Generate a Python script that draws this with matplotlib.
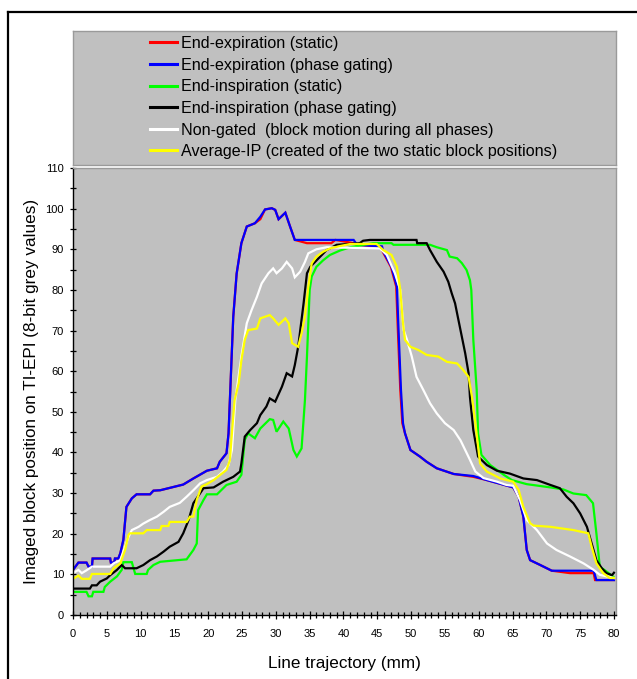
import matplotlib
matplotlib.use("Agg")
import matplotlib.pyplot as plt
from matplotlib.lines import Line2D
from matplotlib.ticker import MultipleLocator

# Series (x in mm, y in 8-bit grey values)
exp_static_x = [0, 0.8, 2.0, 2.3, 2.8, 2.9, 5.5, 5.6, 6.1, 6.2, 6.7, 7.0, 7.45, 7.9, 8.7, 9.4,
                11.4, 11.9, 12.9, 16.3, 17.8, 19.8, 21.3, 21.7, 22.7, 23.0, 23.2, 23.7, 24.2,
                24.9, 25.7, 26.9, 27.7, 28.4, 29.4, 29.9, 30.4, 31.4, 32.1, 32.8, 34.6, 38.2,
                38.8, 41.5, 42.0, 45.5, 45.8, 47.0, 47.8, 48.0, 48.4, 48.7, 49.1, 49.9, 51.3,
                52.3, 53.8, 56.3, 59.2, 61.2, 65.1, 65.9, 66.6, 67.1, 67.6, 69.1, 70.8, 73.5,
                77.0, 77.2, 80.0]
exp_static_y = [11.1, 12.9, 12.9, 11.9, 11.9, 13.9, 13.9, 12.9, 12.9, 13.9, 13.9, 15.2, 18.5,
                26.6, 28.7, 29.7, 29.7, 30.6, 30.7, 32.1, 33.6, 35.5, 36.1, 37.7, 39.8, 44.7,
                52.9, 73.4, 84.0, 91.5, 95.6, 96.4, 97.4, 99.8, 100.1, 99.7, 97.4, 99.0, 95.6,
                92.3, 91.5, 91.5, 92.3, 91.5, 91.1, 90.7, 89.4, 85.7, 80.8, 71.8, 55.4, 47.2,
                44.7, 40.6, 39.0, 37.7, 36.1, 34.7, 34.0, 33.2, 31.4, 29.1, 24.2, 16.0, 13.5,
                12.3, 10.9, 10.3, 10.3, 8.6, 8.6]

exp_gated_x = [0, 0.8, 2.0, 2.3, 2.8, 2.9, 5.5, 5.6, 6.1, 6.2, 6.7, 7.0, 7.45, 7.9, 8.7, 9.4,
               11.4, 11.9, 12.9, 16.3, 17.8, 19.8, 21.3, 21.7, 22.7, 23.0, 23.2, 23.7, 24.2,
               24.9, 25.7, 26.9, 27.7, 28.4, 29.4, 29.9, 30.4, 31.4, 32.1, 32.8, 41.5, 42.0,
               45.7, 45.9, 47.1, 47.9, 48.1, 48.5, 48.8, 49.1, 49.9, 51.3, 52.3, 53.8, 56.3,
               59.2, 61.2, 65.1, 65.9, 66.6, 67.1, 67.6, 69.1, 70.8, 77.0, 77.4, 80.0]
exp_gated_y = [11.1, 12.9, 12.9, 11.9, 11.9, 13.9, 13.9, 12.9, 12.9, 13.9, 13.9, 15.2, 18.5,
               26.6, 28.7, 29.7, 29.7, 30.6, 30.7, 32.1, 33.6, 35.5, 36.1, 37.7, 39.8, 44.7,
               52.9, 73.4, 84.0, 91.5, 95.6, 96.4, 98.0, 99.8, 100.1, 99.7, 97.4, 99.0, 95.6,
               92.3, 92.3, 91.1, 90.7, 89.4, 85.7, 80.8, 71.8, 55.4, 47.2, 44.7, 40.6, 39.0,
               37.7, 36.1, 34.7, 34.2, 33.2, 31.4, 29.1, 24.2, 16.0, 13.5, 12.3, 10.9, 10.9,
               8.6, 8.6]

insp_static_x = [0, 2.0, 2.3, 2.8, 3.0, 4.5, 4.7, 5.5, 6.5, 7.2, 7.45, 8.7, 9.2, 10.9, 11.1,
                 11.9, 12.9, 16.8, 17.8, 18.3, 18.5, 19.3, 19.8, 21.3, 22.7, 24.2, 24.9, 25.4,
                 25.9, 26.9, 27.7, 29.1, 29.6, 30.1, 31.1, 31.9, 32.6, 33.1, 33.8, 34.3, 34.6,
                 35.0, 35.3, 36.0, 37.0, 38.0, 39.5, 41.0, 44.4, 47.1, 47.4, 52.8, 53.8, 55.3,
                 55.7, 56.8, 57.5, 58.2, 58.7, 58.9, 59.2, 59.7, 59.9, 60.4, 61.7, 62.7, 63.7,
                 64.9, 67.1, 70.6, 72.5, 74.0, 75.9, 76.9, 77.4, 77.9, 78.9, 79.9]
insp_static_y = [5.7, 5.7, 4.6, 4.6, 5.7, 5.7, 6.9, 8.2, 9.5, 11.1, 13.0, 13.0, 10.1, 10.1,
                 11.1, 12.3, 13.1, 13.7, 16.0, 17.6, 25.8, 28.3, 29.7, 29.7, 32.0, 32.8, 34.5,
                 43.1, 44.7, 43.5, 45.9, 48.2, 48.0, 45.1, 47.6, 45.9, 40.6, 39.0, 41.0, 52.9,
                 63.6, 80.0, 83.3, 85.7, 87.3, 88.6, 89.7, 90.5, 91.5, 91.5, 91.1, 91.1, 90.5,
                 89.8, 88.2, 87.8, 86.6, 84.9, 82.4, 80.0, 67.7, 55.4, 44.7, 39.4, 36.9, 35.7,
                 34.5, 33.2, 32.2, 31.4, 30.9, 29.9, 29.5, 27.5, 20.1, 11.9, 10.7, 9.4]

insp_gated_x = [0, 2.5, 2.8, 3.5, 4.0, 5.0, 5.5, 6.5, 7.2, 7.7, 9.4, 10.4, 11.4, 12.4, 13.4,
                14.3, 15.6, 16.3, 17.1, 17.8, 19.3, 20.8, 22.2, 23.7, 24.7, 24.9, 25.4, 26.2,
                27.2, 27.7, 28.6, 29.1, 29.9, 30.9, 31.6, 32.4, 32.8, 33.3, 34.1, 34.6, 35.1,
                37.5, 39.0, 42.4, 42.9, 43.9, 50.8, 50.9, 52.3, 52.8, 53.8, 54.8, 55.5, 56.0,
                56.5, 57.0, 57.5, 58.0, 58.5, 58.7, 59.2, 59.9, 61.2, 62.7, 64.6, 66.6, 68.6,
                70.6, 72.0, 73.0, 74.0, 75.0, 76.0, 76.7, 77.4, 78.2, 78.9, 79.7, 80.0]
insp_gated_y = [6.5, 6.5, 7.3, 7.3, 8.2, 9.0, 9.8, 11.1, 12.3, 11.5, 11.5, 12.3, 13.5, 14.4,
                15.6, 16.8, 18.0, 20.1, 23.4, 27.5, 31.2, 31.4, 32.8, 34.0, 35.3, 37.3, 43.9,
                45.5, 47.2, 49.2, 51.3, 53.3, 52.5, 56.2, 59.5, 58.7, 61.5, 66.0, 76.7, 84.1,
                85.7, 89.8, 91.1, 91.5, 92.1, 92.3, 92.3, 91.5, 91.5, 89.8, 86.9, 84.5, 82.0,
                79.2, 76.7, 72.6, 68.5, 64.4, 59.5, 53.7, 45.5, 39.0, 36.9, 35.5, 34.8, 33.6,
                33.2, 32.0, 31.2, 29.1, 27.5, 25.0, 21.7, 17.6, 13.5, 11.5, 10.3, 9.8, 10.4]

non_gated_x = [0, 0.8, 1.3, 2.0, 2.8, 5.5, 6.0, 7.0, 7.7, 8.2, 8.7, 9.7, 10.4, 11.4, 12.4,
               13.4, 14.3, 15.8, 16.8, 17.8, 18.8, 19.8, 21.3, 22.2, 23.0, 23.5, 24.0, 24.9,
               25.7, 26.4, 27.2, 27.9, 28.9, 29.6, 30.1, 30.9, 31.6, 32.4, 32.8, 33.6, 34.3,
               34.8, 36.0, 37.5, 45.4, 46.4, 47.6, 48.4, 48.9, 49.4, 50.1, 50.8, 51.8, 52.8,
               53.8, 55.0, 56.3, 57.3, 58.7, 59.5, 60.7, 62.7, 64.1, 65.1, 66.1, 67.1, 68.6,
               70.1, 71.5, 73.5, 75.5, 77.0, 77.9, 80.0]
non_gated_y = [10.3, 11.1, 10.3, 11.0, 11.9, 11.9, 12.7, 13.5, 16.8, 19.2, 20.9, 21.7, 22.5,
               23.4, 24.2, 25.4, 26.6, 27.6, 29.1, 30.7, 32.4, 33.2, 34.0, 35.3, 36.9, 40.6,
               52.9, 63.6, 71.8, 75.0, 78.3, 81.6, 84.1, 85.3, 84.1, 85.3, 86.9, 85.3, 83.1,
               84.5, 86.9, 89.0, 90.0, 90.5, 90.2, 88.6, 84.1, 80.0, 70.1, 67.7, 63.6, 58.6,
               55.4, 52.1, 49.6, 47.2, 45.5, 43.0, 38.2, 35.3, 33.7, 32.8, 32.0, 31.8, 28.3,
               23.4, 20.9, 17.6, 16.0, 14.4, 12.7, 11.1, 9.9, 9.1]

average_ip_x = [0, 0.8, 1.3, 2.5, 2.8, 5.5, 6.0, 7.0, 7.7, 8.2, 8.4, 10.4, 10.9, 12.9, 13.1,
                14.1, 14.3, 16.8, 17.3, 17.8, 18.3, 19.0, 19.8, 20.8, 21.7, 22.7, 23.2, 23.5,
                23.9, 24.5, 24.9, 25.4, 25.9, 27.2, 27.7, 29.1, 29.6, 30.4, 31.4, 31.9, 32.4,
                33.3, 33.8, 34.3, 34.8, 35.3, 36.0, 37.0, 38.0, 39.5, 41.0, 44.9, 45.9, 47.1,
                47.9, 48.4, 48.8, 49.1, 49.9, 51.1, 52.3, 54.0, 55.3, 56.8, 57.7, 58.5, 59.0,
                59.5, 60.2, 61.2, 63.2, 65.1, 65.9, 66.6, 67.6, 68.1, 70.6, 74.0, 76.2, 76.7,
                77.4, 78.4, 79.4, 80.0]
average_ip_y = [8.9, 9.7, 8.9, 8.9, 10.1, 10.1, 11.5, 12.7, 16.0, 19.7, 20.1, 20.1, 20.9,
                20.9, 21.9, 21.9, 22.9, 22.9, 24.2, 24.2, 28.3, 31.6, 32.2, 33.2, 34.4, 35.7,
                38.1, 44.7, 52.9, 57.0, 62.7, 67.7, 70.1, 70.5, 73.0, 73.8, 73.0, 71.4, 73.0,
                71.8, 66.9, 66.0, 69.3, 73.4, 80.8, 86.5, 88.2, 89.4, 90.2, 90.8, 91.3, 91.3,
                89.8, 88.6, 85.7, 80.0, 71.8, 67.7, 66.0, 65.2, 64.0, 63.6, 62.3, 61.9, 60.3,
                58.6, 53.7, 47.2, 37.3, 35.3, 33.6, 32.8, 30.8, 26.6, 22.6, 22.0, 21.7, 20.9,
                20.1, 16.8, 12.7, 10.3, 9.1, 9.1]

labels = ["End-expiration (static)", "End-expiration (phase gating)",
          "End-inspiration (static)", "End-inspiration (phase gating)",
          "Non-gated  (block motion during all phases)",
          "Average-IP (created of the two static block positions)"]
colors = ["#ff0000", "#0000ff", "#00ff00", "#000000", "#ffffff", "#ffff00"]
series = [(exp_static_x, exp_static_y), (exp_gated_x, exp_gated_y),
          (insp_static_x, insp_static_y), (insp_gated_x, insp_gated_y),
          (non_gated_x, non_gated_y), (average_ip_x, average_ip_y)]

W, H = 637, 679
fig = plt.figure(figsize=(W / 100, H / 100), dpi=100)
fig.patch.set_facecolor("white")

# outer frame (left and top only, as in the scan)
fig.add_artist(Line2D([8 / W, 8 / W], [0, 1 - 12 / H], color="black", lw=1.6,
                      transform=fig.transFigure))
fig.add_artist(Line2D([8 / W, 1], [1 - 12 / H, 1 - 12 / H], color="black", lw=1.6,
                      transform=fig.transFigure))

gray = "#c0c0c0"
edge = "#9a9a9a"
sans = ["Liberation Sans", "DejaVu Sans"]

# main plot
ax = fig.add_axes([73 / W, 1 - 615 / H, (616 - 73) / W, (615 - 168) / H])
ax.set_facecolor(gray)
handles = []
for (xs, ys), c, lab in zip(series, colors, labels):
    h, = ax.plot(xs, ys, color=c, lw=1.6, label=lab, solid_joinstyle="miter")
    handles.append(h)

ax.set_xlim(0, 80.3)
ax.set_ylim(0, 110)
ax.xaxis.set_major_locator(MultipleLocator(5))
ax.xaxis.set_minor_locator(MultipleLocator(1))
ax.yaxis.set_major_locator(MultipleLocator(10))
ax.yaxis.set_minor_locator(MultipleLocator(5))
ax.tick_params(axis="x", which="major", direction="inout", length=6, width=0.9, pad=7)
ax.tick_params(axis="x", which="minor", direction="inout", length=4.5, width=0.9)
ax.tick_params(axis="y", which="both", direction="inout", length=5, width=0.9, pad=4)
for t in ax.get_xticklabels() + ax.get_yticklabels():
    t.set_family(sans)
    t.set_fontsize(8)
for s in ["left", "bottom"]:
    ax.spines[s].set_color("black")
    ax.spines[s].set_linewidth(1.0)
for s in ["right", "top"]:
    ax.spines[s].set_color(edge)
    ax.spines[s].set_linewidth(1.0)

ax.set_xlabel("Line trajectory (mm)", fontsize=12.3, family=sans, labelpad=12)
ax.set_ylabel("Imaged block position on TI-EPI (8-bit grey values)", fontsize=12.3,
              family=sans, labelpad=5)

# legend panel above the plot
lax = fig.add_axes([73 / W, 1 - 165 / H, (616 - 73) / W, (165 - 31) / H])
lax.set_facecolor(gray)
lax.set_xticks([])
lax.set_yticks([])
for s in lax.spines.values():
    s.set_color(edge)
    s.set_linewidth(1.0)
leg = lax.legend(handles, labels, loc="upper left", bbox_to_anchor=(0.142, 0.962),
                 frameon=False, handlelength=1.65, handletextpad=0.25,
                 labelspacing=0.41, borderpad=0, borderaxespad=0,
                 prop={"family": sans, "size": 11.6})
for line in leg.get_lines():
    line.set_linewidth(2.2)

fig.savefig("out.png", dpi=100)
